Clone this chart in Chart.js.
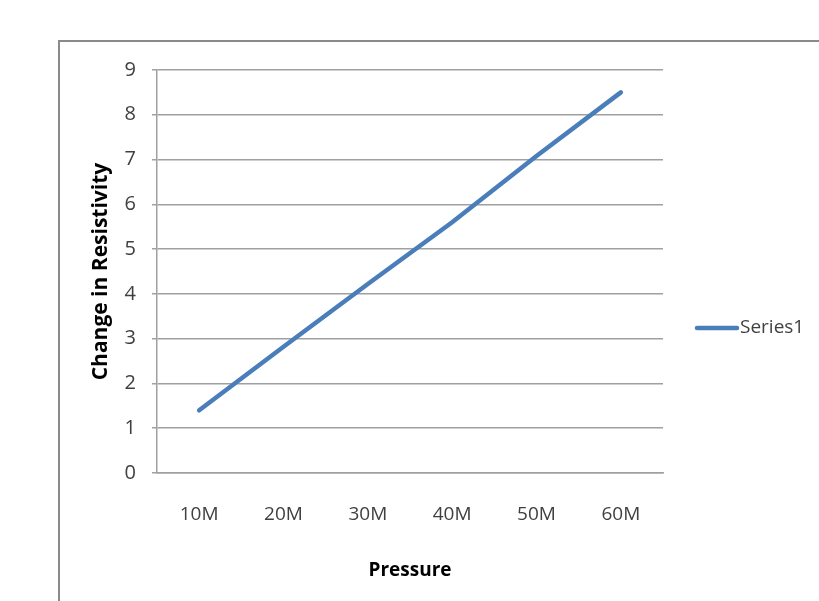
<!DOCTYPE html>
<html>
<head>
<meta charset="utf-8">
<script src="https://cdn.jsdelivr.net/npm/chart.js@4/dist/chart.umd.min.js"></script>
<style>
  html,body{margin:0;padding:0;background:#fff;overflow:hidden}
  #wrap{position:relative;width:819px;height:601px}
  #frame{position:absolute;left:58px;top:40px;width:900px;height:700px;border:2px solid #8a8a8a;box-sizing:border-box}
  #ch{position:absolute;left:0;top:0}
</style>
</head>
<body>
<div id="wrap">
  <div id="frame"></div>
  <canvas id="ch" width="819" height="601"></canvas>
</div>
<script>
// ===== datos =====
const categorias=['10M','20M','30M','40M','50M','60M'];
const serie1=[1.4,2.82,4.22,5.6,7.08,8.5];
const nombreSerie='Series1';
const yMin=0, yMax=9, yPaso=1;

const FUENTE="'Open Sans',sans-serif";
const AZUL='#4a7ebb';

// leyenda a mano, a la derecha del área de trazado
const leyendaDerecha={
  id:'leyendaDerecha',
  afterDraw(chart){
    const ctx=chart.ctx, ds=chart.data.datasets[0];
    const y=328;
    ctx.save();
    ctx.strokeStyle=ds.borderColor; ctx.lineWidth=4.5; ctx.lineCap='round';
    ctx.beginPath(); ctx.moveTo(697,y); ctx.lineTo(737,y); ctx.stroke();
    ctx.fillStyle='#404040'; ctx.font='19px '+FUENTE;
    ctx.textBaseline='middle'; ctx.textAlign='left';
    ctx.fillText(ds.label,740,y);
    ctx.restore();
  }
};

new Chart(document.getElementById('ch'),{
  type:'line',
  data:{labels:categorias,datasets:[
    {label:nombreSerie,data:serie1,borderColor:AZUL,backgroundColor:AZUL,borderWidth:4.5,
     pointRadius:0,tension:0,borderCapStyle:'round',fill:false}
  ]},
  options:{
    responsive:false,animation:false,
    layout:{padding:{left:80,right:156,top:70,bottom:19}},
    plugins:{legend:{display:false},tooltip:{enabled:false}},
    scales:{
      x:{offset:true,
        grid:{display:false,drawTicks:false},
        border:{display:true,color:'#a0a0a0',width:1.5},
        ticks:{color:'#404040',font:{family:FUENTE,size:19},padding:30,maxRotation:0},
        title:{display:true,text:'Pressure',color:'#000',font:{family:FUENTE,size:19,weight:'bold'},padding:{top:0,bottom:0}},
        afterFit(s){s.height=109;}
      },
      y:{min:yMin,max:yMax,
        grid:{color:'#a0a0a0',lineWidth:1.5,tickLength:5,drawTicks:true},
        border:{display:true,color:'#a0a0a0',width:1.5},
        ticks:{stepSize:yPaso,color:'#404040',font:{family:FUENTE,size:20},padding:16},
        title:{display:true,text:'Change in Resistivity',color:'#000',font:{family:FUENTE,size:21,weight:'bold'},padding:{top:8,bottom:0}},
        afterFit(s){s.width=77;}
      }
    }
  },
  plugins:[leyendaDerecha]
});
</script>
</body>
</html>
